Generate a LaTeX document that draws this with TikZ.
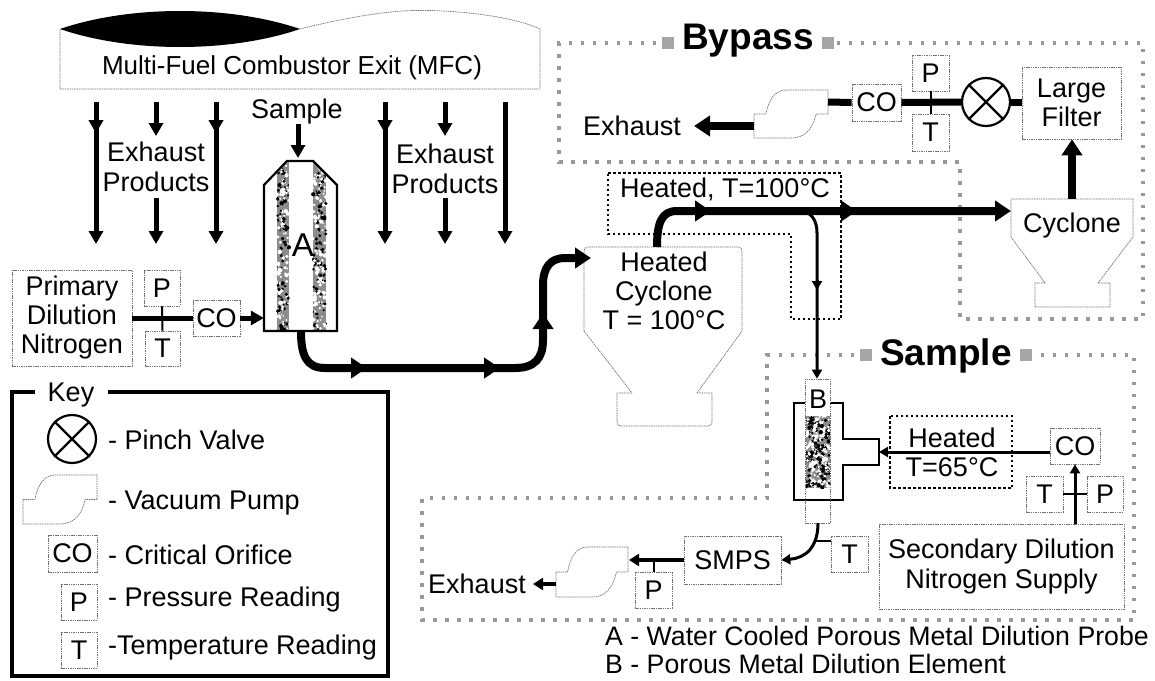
\documentclass[tikz,border=0pt]{standalone}
\usepackage{fontspec}
\setmainfont{Liberation Sans}
\usetikzlibrary{arrows.meta,decorations.markings,calc}
\tikzset{
  thin box/.style={draw=black!55,line width=0.7pt,dash pattern=on 1.5pt off 0.8pt},
  boxn/.style={thin box,inner sep=0pt,align=center,font=\fontsize{27}{29}\selectfont},
  label/.style={inner sep=0pt,font=\fontsize{27}{29.5}\selectfont,align=center},
  keylabel/.style={label,anchor=west},
  title/.style={inner sep=0pt,font=\fontsize{37}{40}\selectfont\bfseries},
  frame/.style={draw=black!40,line width=3.5pt,dash pattern=on 3.5pt off 8.5pt},
  hot/.style={draw=black,line width=2.2pt,dash pattern=on 2.5pt off 2.5pt},
  flow/.style={draw=black,line width=5pt,-{Triangle[length=13pt,width=14pt]}},
  bigflow/.style={draw=black,line width=8pt,-{Triangle[length=16pt,width=20pt]}},
  bigline/.style={draw=black,line width=8pt},
  thinflow/.style={draw=black,line width=3pt,-{Triangle[length=9pt,width=10pt]}},
  medflow/.style={draw=black,line width=4.5pt,-{Triangle[length=10pt,width=12pt]}},
  plainthick/.style={draw=black,line width=7pt},
  tick/.style={draw=black,line width=2pt},
  tipat/.style={postaction={decorate,decoration={markings,mark=at position #1 with {\arrow{Triangle[length=13pt,width=14pt]}}}}},
  wall/.style={draw=black,line width=2.2pt,line join=miter},
  valve/.style={circle,draw=black,line width=2.2pt,minimum size=48pt,inner sep=0pt},
}
\newcommand{\boxat}[6]{%
  \pgfmathsetmacro{\bw}{#4-#2}\pgfmathsetmacro{\bh}{#5-#3}%
  \pgfmathsetmacro{\cx}{(#2+#4)/2}\pgfmathsetmacro{\cy}{(#3+#5)/2}%
  \node[boxn,minimum width=\bw pt,minimum height=\bh pt] (#1) at (\cx,\cy) {#6};}
\newcommand{\pumpat}[4]{%
  \pgfmathsetmacro{\pw}{(#3-#1)}\pgfmathsetmacro{\ph}{(#4-#2)}%
  \begin{scope}[shift={(#1,#2)},xscale=\pw,yscale=\ph]
    \draw[thin box,line width=0.7pt] (0,0.5) -- (0.16,0.5) .. controls (0.2,0.2) and (0.28,0) .. (0.44,0)
      -- (1,0) -- (1,0.5) -- (0.84,0.5) .. controls (0.8,0.75) and (0.72,1) .. (0.5,1) -- (0,1) -- cycle;
  \end{scope}}
\newcommand{\porous}[5]{% x1 y1 x2 y2 count
  \fill[black!45] (#1,#2) rectangle (#3,#4);
  \foreach \i in {1,...,#5}{
    \pgfmathsetmacro{\rx}{#1+rnd*(#3-#1)}\pgfmathsetmacro{\ry}{#2+rnd*(#4-#2)}
    \pgfmathsetmacro{\rr}{0.8+rnd*1.4}\pgfmathsetmacro{\rc}{rnd>0.45?0:100}
    \fill[black!\rc!white] (\rx,\ry) circle (\rr);
  }}
\begin{document}
\begin{tikzpicture}[x=1pt,y=-1pt]
\pgfmathsetseed{7}
\useasboundingbox (0,0) rectangle (1155,680);
\fill[white] (0,0) rectangle (1155,680);

% --- combustor
\draw[thin box] (300,29) .. controls (360,14) and (400,10) .. (420,10.5)
   .. controls (450,10) and (510,15) .. (540,29) -- (540,89) -- (60,89) -- (60,29);
\fill[black] (60,29) .. controls (130,5) and (230,5) .. (300,29)
   .. controls (230,53) and (130,53) .. (60,29) -- cycle;
\node[label,font=\fontsize{26}{29}\selectfont] (mfc) at (292,68) {Multi-Fuel Combustor Exit (MFC)};

% --- exhaust arrows
\coordinate (e1a) at (96,102);  \coordinate (e1b) at (96,244);
\coordinate (e2a) at (156,102); \coordinate (e2b) at (156,136);
\coordinate (e3a) at (156,198); \coordinate (e3b) at (156,244);
\coordinate (e4a) at (216,102); \coordinate (e4b) at (216,244);
\coordinate (e5a) at (385,102); \coordinate (e5b) at (385,244);
\coordinate (e6a) at (445,102); \coordinate (e6b) at (445,136);
\coordinate (e7a) at (445,198); \coordinate (e7b) at (445,244);
\coordinate (e8a) at (505,102); \coordinate (e8b) at (505,244);
\draw[flow,tipat=0.22] (e1a) -- (e1b);
\draw[flow] (e2a) -- (e2b);
\draw[flow] (e3a) -- (e3b);
\draw[flow,tipat=0.22] (e4a) -- (e4b);
\draw[flow,tipat=0.22] (e5a) -- (e5b);
\draw[flow] (e6a) -- (e6b);
\draw[flow] (e7a) -- (e7b);
\draw[flow] (e8a) -- (e8b);
\node[label] (ep1) at (156,167) {Exhaust\\Products};
\node[label] (ep2) at (445,169) {Exhaust\\Products};
\node[label] (samp) at (297,112) {Sample};

% --- probe A
\begin{scope}
  \clip (265,186) -- (288,162) -- (312,162) -- (336,186) -- (336,330) -- (265,330) -- cycle;
  \porous{277}{162}{289}{331}{190}
  \porous{313}{162}{326}{331}{190}
\end{scope}
\coordinate (pb) at (301,331);
\node[inner sep=0pt,minimum width=73pt,minimum height=170pt] (probe) at (300.5,246) {};
\draw[wall] (264,185) -- (287,161) -- (313,161) -- (337,185) -- (337,331) -- (264,331) -- cycle;
\node[label,font=\fontsize{33}{33}\selectfont] (lA) at (303,245) {A};
\coordinate (ptop) at (298,158);
\coordinate (sampa) at (298,124);
\draw[flow] (sampa) -- (ptop);

% --- primary dilution
\boxat{prim}{12}{270}{132}{366}{Primary\\Dilution\\Nitrogen}
\boxat{p1}{144}{270}{180}{306}{P}
\boxat{t1}{145}{331}{180}{366}{T}
\boxat{co1}{193}{300}{240}{336}{CO}
\draw[draw=black,line width=5pt] (prim.east |- co1.west) -- (co1.west);
\draw[tick] (p1.south) -- (t1.north);
\draw[flow] (co1.east) -- (probe.west |- co1.east);

% --- main pipe
\draw[thin box] (584,331) -- (584,252) .. controls (584,249) and (585,247) .. (587,247) -- (739,247) .. controls (741,247) and (742,249) .. (742,252) -- (742,331) -- (697,393);
\draw[thin box] (584,331) -- (632,393);
\draw[thin box] (632,393) -- (617,393) -- (617,422) .. controls (617,425) and (619,426) .. (621,426) -- (708,426) .. controls (710,426) and (712,425) .. (712,422) -- (712,393) -- (697,393);
\node[label,font=\fontsize{27}{29}\selectfont] (hctext2) at (664,291) {Heated\\Cyclone\\T = 100°C};
\coordinate (m0) at (345,368);
\coordinate (m1) at (367,368);
\coordinate (m1b) at (480,368);
\coordinate (m2) at (500,368);
\coordinate (m2b) at (543,335);
\coordinate (m3) at (543,313);
\coordinate (hcin) at (591,258);
\draw[bigline] (pb) .. controls (301,355) and (306,368) .. (325,368) -- (515,368) .. controls (535,368) and (543,358) .. (543,340) -- (543,285) .. controls (543,268) and (550,258) .. (565,258) -- (575,258);
\draw[bigflow] (m0) -- (m1);
\draw[bigflow] (m1b) -- (m2);
\draw[bigflow] (m2b) -- (m3);
\draw[bigflow] (565,258) -- (hcin);

% --- bypass frame
\draw[hot] (608,173) -- (841,173) -- (841,319) -- (791,319) -- (791,234) -- (608,234) -- cycle;
\node[label] (h100) at (725,189) {Heated, T=100°C};
\draw[frame] (668,43) -- (559,43) -- (559,162) -- (960,162) -- (960,319) -- (1143,319) -- (1143,43) -- (828,43);
\fill[black!35] (662,37) rectangle (674,49);
\fill[black!35] (822,37) rectangle (834,49);
\node[title] (byp) at (748,41) {Bypass};

% --- right cyclone
\draw[thin box,fill=white] (1011,199) -- (1133,199) -- (1133,237) -- (1098,283) -- (1110,283) -- (1110,307) -- (1035,307) -- (1035,283) -- (1045,283) -- (1011,237) -- cycle;
\node[label] (cyc) at (1072,226) {Cyclone};
\coordinate (cycin) at (1011,211);
\coordinate (cyctop) at (1072,199);
\coordinate (hcout) at (657,247);
\coordinate (f0) at (690,211);
\coordinate (f1) at (711,211);
\coordinate (f1b) at (836,211);
\coordinate (f2) at (857,211);
\draw[bigline] (hcout) .. controls (657,222) and (662,211) .. (677,211) -- (995,211);
\draw[bigflow] (f0) -- (f1);
\draw[bigflow] (f1b) -- (f2);
\draw[bigflow] (980,211) -- (cycin);

% --- bypass row
\boxat{lf}{1022}{67}{1121}{139}{Large\\Filter}
\boxat{co2}{852}{84}{901}{121}{CO}
\boxat{p2}{912}{55}{949}{91}{P}
\boxat{t2}{912}{114}{949}{151}{T}
\node[valve] (v2) at (986,102) {};
\draw[black,line width=2.2pt] (v2.north west) -- (v2.south east);
\draw[black,line width=2.2pt] (v2.north east) -- (v2.south west);
\pumpat{754}{90}{828}{138}
\coordinate (pm2r) at (828,102);
\coordinate (pm2l) at (754,126);
\draw[plainthick] (pm2r) -- (co2.west);
\draw[plainthick] (co2.east) -- (v2.west);
\draw[plainthick] (v2.east) -- (lf.west |- v2.east);
\draw[tick] (p2.south) -- (t2.north);
\draw[bigflow] (cyctop) -- (lf.south -| cyctop);
\node[label] (ex2) at (632,126) {Exhaust};
\coordinate (ex2t) at (694,126);
\draw[bigflow] (pm2l) -- (ex2t);

% --- sample frame
\draw[frame] (866,355) -- (767,355) -- (767,498) -- (422,498) -- (422,620) -- (1134,620) -- (1134,355) -- (1026,355);
\fill[black!35] (860,349) rectangle (872,361);
\fill[black!35] (1020,349) rectangle (1032,361);
\node[title] (sam) at (946,356) {Sample};

% --- element B
\draw[wall] (805,403) -- (794,403) -- (794,500) -- (843,500) -- (843,465) -- (879,465) -- (879,439) -- (843,439) -- (843,403) -- (830,403);
\boxat{tube}{805}{379}{830}{523}{}
\begin{scope}
  \clip (806,416) rectangle (830,488);
  \porous{806}{416}{830}{488}{300}
\end{scope}
\node[label] (lB) at (818,399) {B};
\coordinate (branch) at (799,211);
\coordinate (bmid0) at (817,280);
\coordinate (bmid) at (817,290);
\draw[thinflow] (branch) .. controls (811,211) and (817,220) .. (817,233) -- (tube.north -| bmid);
\draw[thinflow] (bmid0) -- (bmid);

\draw[hot] (890,416) rectangle (1012,488);
\node[label] (h65) at (952,438) {Heated};
\node[label] (t65) at (952,467) {T=65°C};
\boxat{co3}{1050}{428}{1100}{464}{CO}
\boxat{t3}{1026}{476}{1063}{512}{T}
\boxat{p3}{1087}{476}{1123}{512}{P}
\boxat{sec}{879}{524}{1124}{609}{Secondary Dilution\\[1pt]Nitrogen Supply}
\coordinate (co3w) at (1050,452);
\coordinate (bin) at (879,452);
\coordinate (vx) at (1075,490);
\draw[thinflow] (co3w) -- (bin);
\draw[thinflow] (sec.north -| vx) -- (co3.south -| vx);
\draw[tick] (t3.east) -- (p3.west);

\boxat{t4}{831}{536}{868}{572}{T}
\boxat{smps}{684}{536}{781}{584}{SMPS}
\boxat{p4}{635}{572}{672}{608}{P}
\pumpat{556}{547}{628}{597}
\coordinate (tb) at (818,523);
\coordinate (tt) at (815,541);
\draw[thinflow] (tb) .. controls (818,548) and (805,558) .. (smps.east);
\draw[tick] (tt) -- (t4.west |- tt);
\coordinate (pm4r) at (629,560);
\draw[medflow] (smps.west) -- (pm4r);
\draw[tick] (p4.north) -- (p4.north |- pm4r);
\coordinate (pm4l) at (556,584);
\coordinate (ex4t) at (533,584);
\draw[medflow] (pm4l) -- (ex4t);
\node[label] (ex4) at (477,584) {Exhaust};
\node[keylabel,font=\fontsize{26.7}{29}\selectfont] (notea) at (605,636) {A - Water Cooled Porous Metal Dilution Probe};
\node[keylabel,font=\fontsize{26.7}{29}\selectfont] (noteb) at (605,664) {B - Porous Metal Dilution Element};

% --- key
\draw[draw=black,line width=3.5pt] (35,392) -- (12,392) -- (12,676) -- (388,676) -- (388,392) -- (108,392);
\node[label] (key) at (71,395) {Key};
\node[valve] (v1) at (72,439) {};
\draw[black,line width=2.2pt] (v1.north west) -- (v1.south east);
\draw[black,line width=2.2pt] (v1.north east) -- (v1.south west);
\pumpat{23}{475}{97}{524}
\boxat{co5}{48}{535}{97}{572}{CO}
\boxat{p5}{61}{584}{97}{620}{P}
\boxat{t5}{61}{632}{97}{668}{T}
\node[keylabel] (k1) at (108,440) {- Pinch Valve};
\node[keylabel] (k2) at (108,503) {- Vacuum Pump};
\node[keylabel] (k3) at (108,555) {- Critical Orifice};
\node[keylabel] (k4) at (108,600) {- Pressure Reading};
\node[keylabel] (k5) at (108,648) {-Temperature Reading};
\end{tikzpicture}
\end{document}
